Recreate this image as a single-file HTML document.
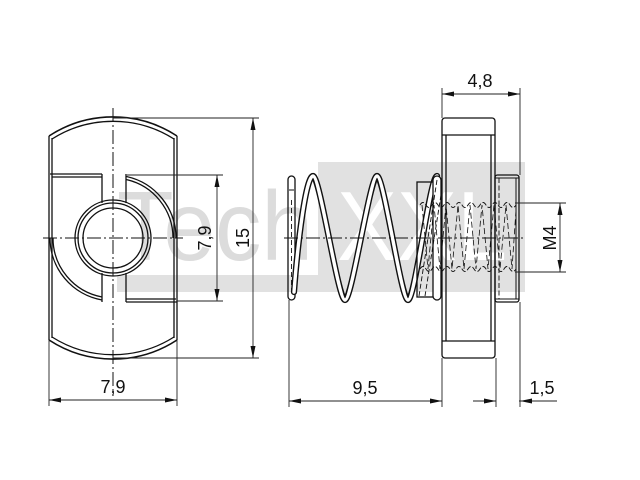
<!DOCTYPE html>
<html><head><meta charset="utf-8"><style>
html,body{margin:0;padding:0;background:#fff;}
svg{display:block;}
text{font-family:"Liberation Sans",Arial,sans-serif;fill:#111;}
</style></head><body>
<svg width="640" height="480" viewBox="0 0 640 480" xmlns="http://www.w3.org/2000/svg">
<rect width="640" height="480" fill="#fff"/>
<!-- watermark -->
<rect x="318" y="162" width="207" height="130" fill="#e1e1e1"/>
<rect x="117" y="275" width="201" height="17" fill="#e1e1e1"/>
<text x="117" y="260" font-size="98" textLength="196" lengthAdjust="spacingAndGlyphs" style="fill:#dcdcdc">Tech</text>
<text x="337" y="260" font-size="98" textLength="170" lengthAdjust="spacingAndGlyphs" style="fill:#fff">XXL</text>

<g fill="none" stroke="#111" stroke-width="1.3">
<!-- LEFT VIEW -->
<line x1="49" y1="136" x2="49" y2="340"/>
<line x1="52" y1="138" x2="52" y2="338"/>
<line x1="174" y1="138" x2="174" y2="338"/>
<line x1="177" y1="136" x2="177" y2="340"/>
<path d="M49,136 A117,117 0 0 1 177,136" stroke-width="1.6"/>
<path d="M52,139 A114,114 0 0 1 174,139"/>
<path d="M49,340 A117,117 0 0 0 177,340" stroke-width="1.6"/>
<path d="M52,337 A114,114 0 0 0 174,337"/>
<!-- D shape -->
<line x1="50" y1="174" x2="102" y2="174"/>
<line x1="52" y1="177" x2="102" y2="177"/>
<path d="M126,176.4 A63,63 0 0 1 176,238"/>
<path d="M126,179.5 A60,60 0 0 1 173,238"/>
<path d="M50,238 A63,63 0 0 0 102,300"/>
<path d="M53,238 A60,60 0 0 0 102,297"/>
<line x1="126" y1="299" x2="176" y2="299"/>
<line x1="126" y1="302" x2="177" y2="302"/>
<!-- slots -->
<line x1="102" y1="174" x2="102" y2="203"/>
<line x1="126" y1="174" x2="126" y2="203"/>
<line x1="102" y1="273" x2="102" y2="302"/>
<line x1="126" y1="273" x2="126" y2="302"/>
<!-- hole -->
<circle cx="113" cy="238" r="38"/>
<circle cx="113" cy="238" r="35"/>
<circle cx="113" cy="238" r="30"/>

<!-- SPRING -->
<rect x="288" y="176" width="7" height="124" rx="3.5"/>
<line x1="289" y1="190" x2="294" y2="190" stroke-width="1"/>
<line x1="291.5" y1="200" x2="291.5" y2="290" stroke-width="0.9" stroke-dasharray="5,3"/>
</g>
<path d="M294,292 C298,240 306,176 313,176 C320,176 338,300 345,300 C352,300 370,176 377,176 C384,176 401,300 408,300 C415,300 430,176 437,176" fill="none" stroke="#111" stroke-width="6.2" stroke-linecap="round"/>
<path d="M294,292 C298,240 306,176 313,176 C320,176 338,300 345,300 C352,300 370,176 377,176 C384,176 401,300 408,300 C415,300 430,176 437,176" fill="none" stroke="#fff" stroke-width="3.4" stroke-linecap="round"/>

<g fill="none" stroke="#111" stroke-width="1.3">
<!-- collar -->
<rect x="417" y="182" width="21" height="115"/>
<rect x="433" y="176" width="8" height="124" rx="4" fill="#fff"/>
<g stroke-width="0.9" stroke-dasharray="5,2.5">
<line x1="437" y1="180" x2="419" y2="296"/>
<line x1="441" y1="195" x2="425" y2="296"/>
</g>
<!-- flange -->
<rect x="442" y="118" width="53" height="240" rx="3"/>
<line x1="442" y1="135" x2="495" y2="135"/>
<line x1="442" y1="341" x2="495" y2="341"/>
<line x1="446" y1="135" x2="446" y2="341"/>
<line x1="491" y1="135" x2="491" y2="341"/>
<!-- stub -->
<rect x="495" y="175" width="24" height="127" rx="2.5"/>
<line x1="495" y1="178" x2="519" y2="178" stroke-width="1"/>
<line x1="495" y1="299" x2="519" y2="299" stroke-width="1"/>
<line x1="516" y1="178" x2="516" y2="299" stroke-width="1"/>
<line x1="499" y1="178" x2="499" y2="299" stroke-width="0.9" stroke-dasharray="5,2.5"/>
<!-- thread -->
<path d="M420,205 q3,-5 6,0 t6,0 t6,0 t6,0 t6,0 t6,0 t6,0 t6,0 t6,0 t6,0 t6,0 t6,0 t6,0 t6,0 t6,0 t6,0" stroke-width="0.9" stroke-dasharray="5,2"/>
<path d="M420,269 q3,-5 6,0 t6,0 t6,0 t6,0 t6,0 t6,0 t6,0 t6,0 t6,0 t6,0 t6,0 t6,0 t6,0 t6,0 t6,0 t6,0" stroke-width="0.9" stroke-dasharray="5,2"/>
<polyline points="422,205 428,269 434,205 440,269 446,205 452,269 458,205 464,269 470,205 476,269 482,205 488,269 494,205 500,269 506,205 512,269 516,210" stroke-width="0.8" stroke-dasharray="6,3"/>
</g>

<!-- centerlines -->
<g stroke="#111" stroke-width="1" stroke-dasharray="14,3,2,3" fill="none">
<line x1="113" y1="108" x2="113" y2="396"/>
<line x1="43" y1="238" x2="183" y2="238"/>
<line x1="284" y1="238" x2="526" y2="238"/>
</g>

<!-- dimension lines -->
<g stroke="#222" stroke-width="0.9" fill="none">
<line x1="113" y1="118" x2="259" y2="118"/>
<line x1="113" y1="358" x2="259" y2="358"/>
<line x1="253" y1="118" x2="253" y2="358"/>
<line x1="127" y1="175" x2="223" y2="175"/>
<line x1="177" y1="301" x2="223" y2="301"/>
<line x1="217" y1="175" x2="217" y2="301"/>
<line x1="49" y1="340" x2="49" y2="406"/>
<line x1="177" y1="340" x2="177" y2="406"/>
<line x1="49" y1="400" x2="177" y2="400"/>
<line x1="289" y1="300" x2="289" y2="407"/>
<line x1="442" y1="358" x2="442" y2="407"/>
<line x1="442" y1="88" x2="442" y2="118"/>
<line x1="289" y1="401" x2="442" y2="401"/>
<line x1="520" y1="88" x2="520" y2="175"/>
<line x1="442" y1="94" x2="520" y2="94"/>
<line x1="496" y1="358" x2="496" y2="407"/>
<line x1="520" y1="302" x2="520" y2="407"/>
<line x1="473" y1="401" x2="496" y2="401"/>
<line x1="519" y1="401" x2="557" y2="401"/>
<line x1="515" y1="203" x2="566" y2="203"/>
<line x1="515" y1="272" x2="566" y2="272"/>
<line x1="560" y1="203" x2="560" y2="272"/>
</g>

<!-- arrowheads -->
<g fill="#111" stroke="none">
<polygon points="253,118 250.5,130 255.5,130"/>
<polygon points="253,358 250.5,346 255.5,346"/>
<polygon points="217,175 214.5,187 219.5,187"/>
<polygon points="217,301 214.5,289 219.5,289"/>
<polygon points="49,400 61,397.5 61,402.5"/>
<polygon points="177,400 165,397.5 165,402.5"/>
<polygon points="289,401 301,398.5 301,403.5"/>
<polygon points="442,401 430,398.5 430,403.5"/>
<polygon points="442,94 454,91.5 454,96.5"/>
<polygon points="520,94 508,91.5 508,96.5"/>
<polygon points="496,401 484,398.5 484,403.5"/>
<polygon points="520,401 532,398.5 532,403.5"/>
<polygon points="560,203 557.5,215 562.5,215"/>
<polygon points="560,272 557.5,260 562.5,260"/>
</g>

<!-- labels -->
<g font-size="18" text-anchor="middle">
<text x="113" y="393">7,9</text>
<text x="365" y="394">9,5</text>
<text x="542" y="394">1,5</text>
<text x="480" y="87">4,8</text>
<text transform="translate(249,238) rotate(-90)" x="0" y="0">15</text>
<text transform="translate(211,238) rotate(-90)" x="0" y="0">7,9</text>
<text transform="translate(556,238) rotate(-90)" x="0" y="0">M4</text>
</g>
</svg>
</body></html>
